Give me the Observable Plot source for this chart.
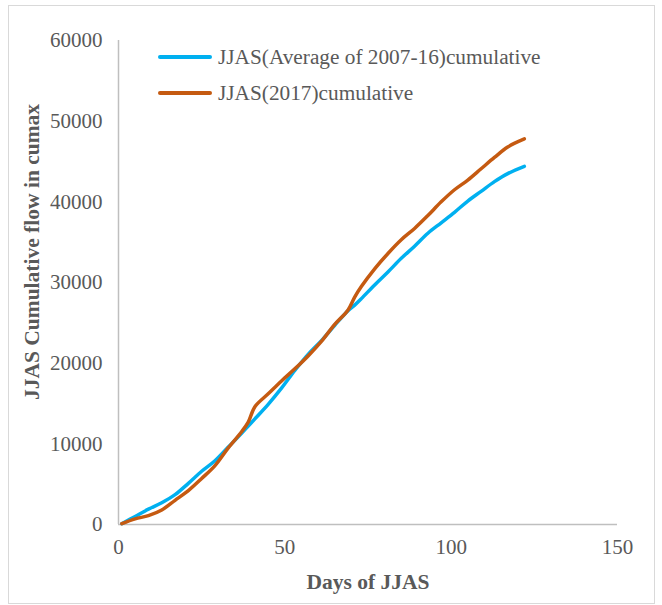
<!DOCTYPE html>
<html>
<head>
<meta charset="utf-8">
<script src="https://cdn.jsdelivr.net/npm/d3@7"></script>
<script src="https://cdn.jsdelivr.net/npm/@observablehq/plot@0.6"></script>
<style>
  body { margin: 0; background: #fff; }
  #wrap { position: relative; width: 662px; height: 605px; overflow: hidden; font-family: "Liberation Serif", "Times New Roman", serif; }
  #frame { position: absolute; left: 8px; top: 5px; width: 645px; height: 597px; border: 1px solid #d9d9d9; pointer-events: none; }
  #legend { position: absolute; left: 158px; top: 39px; color: #595959; font-size: 21.3px; }
  .item { display: flex; align-items: center; height: 36px; }
  .sw { width: 54px; height: 4px; margin-right: 6px; border-radius: 2px; }
</style>
</head>
<body>
<div id="wrap"><div id="frame"></div><div id="legend"></div></div>
<script>
const days   = [1, 5, 9, 13, 17, 21, 25, 29, 33, 37, 39, 41, 45, 49, 53, 57, 61, 65, 69, 71, 73, 77, 81, 85, 89, 93, 97, 101, 105, 109, 113, 117, 122];
const avg    = [100, 1000, 1900, 2700, 3700, 5100, 6600, 7900, 9600, 11300, 12200, 13100, 14900, 16900, 19100, 21100, 22800, 24700, 26500, 27200, 28000, 29700, 31300, 33000, 34500, 36100, 37400, 38700, 40100, 41300, 42500, 43500, 44400];
const y2017  = [100, 700, 1100, 1800, 3000, 4200, 5700, 7300, 9500, 11500, 12700, 14600, 16200, 17800, 19300, 20900, 22700, 24800, 26600, 28200, 29500, 31700, 33600, 35300, 36700, 38300, 40000, 41500, 42700, 44100, 45500, 46800, 47800];
const seriesNames = ["JJAS(Average of 2007-16)cumulative", "JJAS(2017)cumulative"];
const colors = ["#00B0F0", "#C55A11"];
const xTicks = [0, 50, 100, 150];
const yTicks = [0, 10000, 20000, 30000, 40000, 50000, 60000];
const xTitle = "Days of JJAS";
const yTitle = "JJAS Cumulative flow in cumax";

const avgData = days.map((d, i) => ({day: d, v: avg[i]}));
const d2017 = days.map((d, i) => ({day: d, v: y2017[i]}));

const chart = Plot.plot({
  width: 662, height: 605,
  marginLeft: 118, marginRight: 45, marginTop: 40, marginBottom: 81,
  style: {fontFamily: "Liberation Serif", fontSize: "21px", color: "#595959", background: "transparent"},
  x: {domain: [0, 150]},
  y: {domain: [0, 60000]},
  marks: [
    Plot.ruleY([0], {stroke: "#bfbfbf", strokeWidth: 1.5}),
    Plot.ruleX([0], {stroke: "#bfbfbf", strokeWidth: 1.5}),
    Plot.axisX({ticks: xTicks, tickSize: 0, tickPadding: 15, label: null, fill: "#595959"}),
    Plot.axisY({ticks: yTicks, tickSize: 0, tickPadding: 16, tickFormat: d => String(d), label: null, fill: "#595959"}),
    Plot.lineY(avgData, {x: "day", y: "v", stroke: colors[0], strokeWidth: 3.5, curve: "catmull-rom"}),
    Plot.lineY(d2017, {x: "day", y: "v", stroke: colors[1], strokeWidth: 3.5, curve: "catmull-rom"})
  ]
});
chart.style.position = "absolute";
chart.style.left = "0px";
chart.style.top = "0px";
document.getElementById("wrap").insertBefore(chart, document.getElementById("frame"));

const svg = d3.select(chart);
svg.append("text").attr("x", 368).attr("y", 589).attr("text-anchor", "middle")
  .attr("font-weight", "bold").attr("fill", "#595959").attr("font-size", 21.5).text(xTitle);
svg.append("text").attr("transform", "translate(39,252) rotate(-90)").attr("text-anchor", "middle")
  .attr("font-weight", "bold").attr("fill", "#595959").attr("font-size", 21.5).text(yTitle);

const legend = d3.select("#legend");
seriesNames.forEach((n, i) => {
  const it = legend.append("div").attr("class", "item");
  it.append("div").attr("class", "sw").style("background", colors[i]);
  it.append("span").text(n);
});
</script>
</body>
</html>
